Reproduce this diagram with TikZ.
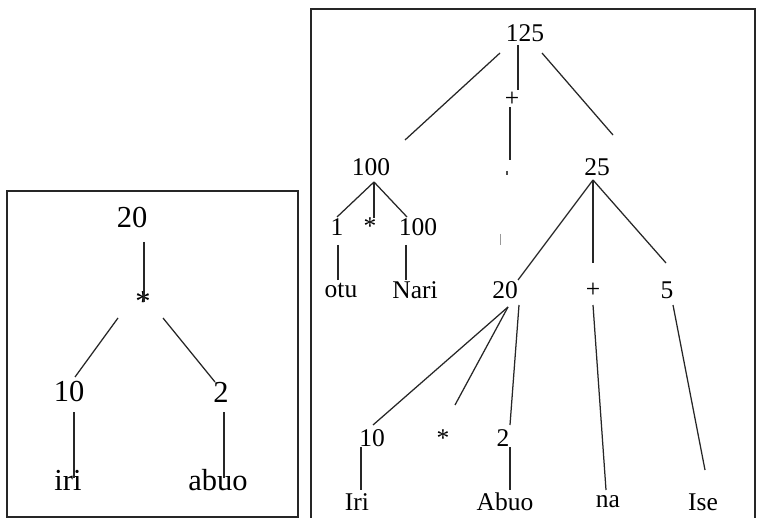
\documentclass[tikz,border=0pt]{standalone}
\usepackage{fontspec}
\setmainfont{Liberation Serif}
\begin{document}
\begin{tikzpicture}[x=1pt,y=-1pt,
  lbl/.style={inner sep=0pt,font=\fontsize{25.5}{27}\selectfont},
  lblL/.style={inner sep=0pt,font=\fontsize{30.5}{32}\selectfont},
  edge/.style={draw=black!85,line width=1.25pt},
  frame/.style={draw=black!85,line width=1.8pt}]
\useasboundingbox (0,0) rectangle (757,518);
\fill[white] (0,0) rectangle (757,518);
% frames
\draw[frame] (7,191) rectangle (298,517);
\draw[frame] (311,9) rectangle (755,522);

% ---- left tree ----
\node[lblL] (L20) at (132,218) {20};
\node[lblL] (Lstar) at (143,302) {*};
\node[lblL] (L10) at (69,392) {10};
\node[lblL] (L2) at (221,392) {2};
\node[lblL] (Liri) at (68,480) {iri};
\node[lblL] (Labuo) at (218,480) {abuo};
\coordinate (l1a) at (144,242); \coordinate (l1b) at (144,302);
\coordinate (l2a) at (118,318); \coordinate (l2b) at (75,377);
\coordinate (l3a) at (163,318); \coordinate (l3b) at (215,382);
\coordinate (l4a) at (74,412);  \coordinate (l4b) at (74,478);
\coordinate (l5a) at (224,412); \coordinate (l5b) at (224,478);
\draw[edge] (l1a) -- (l1b);
\draw[edge] (l2a) -- (l2b);
\draw[edge] (l3a) -- (l3b);
\draw[edge] (l4a) -- (l4b);
\draw[edge] (l5a) -- (l5b);

% ---- right tree ----
\node[lbl] (R125) at (525,33) {125};
\node[lbl] (Rplus) at (512,99) {+};
\node[lbl] (R100) at (371,167) {100};
\node[lbl] (R25) at (597,167) {25};
\node[lbl] (R1) at (337,227) {1};
\node[lbl] (Rstar) at (370,226) {*};
\node[lbl] (R100b) at (418,227) {100};
\node[lbl] (Rotu) at (341,290) {otu};
\node[lbl] (Rnari) at (415,290) {Nari};
\node[lbl] (R20) at (505,290) {20};
\node[lbl] (Rplusb) at (593,290) {+};
\node[lbl] (R5) at (667,290) {5};
\node[lbl] (R10) at (372,438) {10};
\node[lbl] (Rstarb) at (443,438) {*};
\node[lbl] (R2) at (503,438) {2};
\node[lbl] (Riri) at (357,502) {Iri};
\node[lbl] (Rabuo) at (505,502) {Abuo};
\node[lbl] (Rna) at (608,502) {na};
\node[lbl] (Rise) at (703,502) {Ise};

% small stray marks
\coordinate (m1a) at (507,171); \coordinate (m1b) at (507,175);
\coordinate (m2a) at (500,234); \coordinate (m2b) at (500,245);
\draw[black!70,line width=1.2pt] (m1a) -- (m1b);
\draw[black!40,line width=0.9pt] (m2a) -- (m2b);

\coordinate (r1a) at (518,45);  \coordinate (r1b) at (518,90);
\coordinate (r2a) at (510,107); \coordinate (r2b) at (510,160);
\coordinate (r3a) at (500,53);  \coordinate (r3b) at (405,140);
\coordinate (r4a) at (542,53);  \coordinate (r4b) at (613,135);
\coordinate (ap100) at (374,182);
\coordinate (r5b) at (337,217); \coordinate (r6b) at (374,218); \coordinate (r7b) at (407,217);
\coordinate (r8a) at (338,245); \coordinate (r8b) at (338,280);
\coordinate (r9a) at (406,245); \coordinate (r9b) at (406,280);
\coordinate (ap25) at (593,180);
\coordinate (r10b) at (518,280); \coordinate (r11b) at (593,263); \coordinate (r12b) at (666,263);
\coordinate (ap20) at (508,307); \coordinate (ap20b) at (519,305);
\coordinate (r13b) at (373,425); \coordinate (r14b) at (455,405); \coordinate (r15b) at (510,425);
\coordinate (r16a) at (361,447); \coordinate (r16b) at (361,490);
\coordinate (r17a) at (510,447); \coordinate (r17b) at (510,490);
\coordinate (r18a) at (593,305); \coordinate (r18b) at (606,490);
\coordinate (r19a) at (673,305); \coordinate (r19b) at (705,470);

\draw[edge] (r1a) -- (r1b);
\draw[edge] (r2a) -- (r2b);
\draw[edge] (r3a) -- (r3b);
\draw[edge] (r4a) -- (r4b);
\draw[edge] (ap100) -- (r5b);
\draw[edge] (ap100) -- (r6b);
\draw[edge] (ap100) -- (r7b);
\draw[edge] (r8a) -- (r8b);
\draw[edge] (r9a) -- (r9b);
\draw[edge] (ap25) -- (r10b);
\draw[edge] (ap25) -- (r11b);
\draw[edge] (ap25) -- (r12b);
\draw[edge] (ap20) -- (r13b);
\draw[edge] (ap20) -- (r14b);
\draw[edge] (ap20b) -- (r15b);
\draw[edge] (r16a) -- (r16b);
\draw[edge] (r17a) -- (r17b);
\draw[edge] (r18a) -- (r18b);
\draw[edge] (r19a) -- (r19b);
\end{tikzpicture}
\end{document}
